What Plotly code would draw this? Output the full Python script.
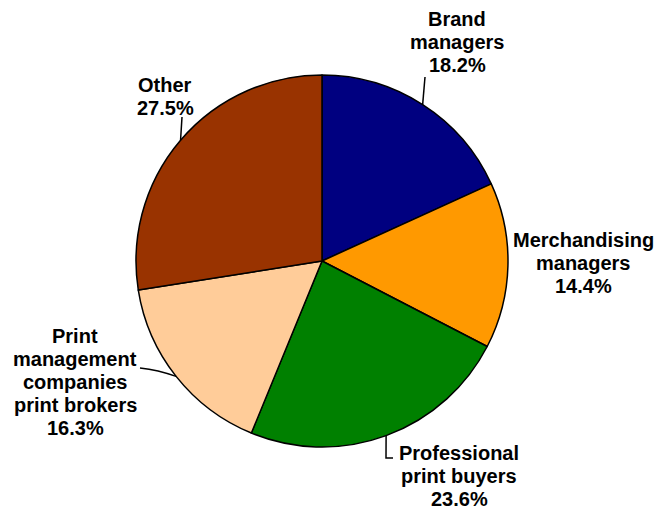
import math
import plotly.graph_objects as go

# Share of respondents by job role (clockwise from 12 o'clock)
categories = [
    "Brand<br>managers",
    "Merchandising<br>managers",
    "Professional<br>print buyers",
    "Print<br>management<br>companies<br>print brokers",
    "Other",
]
shares = [18.2, 14.4, 23.6, 16.3, 27.5]
slice_colors = ["#000080", "#FF9900", "#008000", "#FFCC99", "#993300"]

W, H = 657, 512
CX, CY, R = 322, 261, 186  # pie centre and radius in pixels


def px(x):
    return x / W


def py(y):
    return 1 - y / H


# label block placement: centre x, first baseline y (pixels)
label_pos = [(457, 26), (583, 247), (459, 460), (75, 343), (165, 92)]
LINE_PITCH = 23
FONT_SIZE = 20

# leader line end points near each label (None = no leader)
leader_end = [
    ("line", (425, 77)),
    None,
    ("elbow", (386, 458), (393, 458)),
    ("curve", (140, 368)),
    ("line", (182, 117)),
]

fig = go.Figure(
    go.Pie(
        labels=[c.replace("<br>", " ") for c in categories],
        values=shares,
        sort=False,
        direction="clockwise",
        rotation=0,
        marker=dict(colors=slice_colors, line=dict(color="black", width=1.5)),
        textinfo="none",
        hoverinfo="label+percent",
        showlegend=False,
        domain=dict(
            x=[px(CX - R), px(CX + R)],
            y=[py(CY + R), py(CY - R)],
        ),
    )
)

annotations = []
shapes = []
total = sum(shares)
cum = 0.0
for cat, val, (lx, ly), lead in zip(categories, shares, label_pos, leader_end):
    lines = cat.split("<br>") + [f"{val:.1f}%"]
    for i, t in enumerate(lines):
        base = ly + i * LINE_PITCH
        annotations.append(dict(
            x=px(lx), y=py(base - 0.35 * FONT_SIZE),
            xref="paper", yref="paper",
            xanchor="center", yanchor="middle",
            text=f"<b>{t}</b>", showarrow=False,
            font=dict(family="Liberation Sans, Arial, sans-serif",
                      size=FONT_SIZE, color="black"),
        ))
    # point on the rim at the middle of the slice
    mid = (cum + val / 2) / total * 2 * math.pi
    ex = CX + R * math.sin(mid)
    ey = CY - R * math.cos(mid)
    cum += val
    if lead is None:
        continue
    kind = lead[0]
    if kind == "line":
        tx, ty = lead[1]
        path = f"M {px(ex)} {py(ey)} L {px(tx)} {py(ty)}"
    elif kind == "elbow":
        (bx, by), (tx, ty) = lead[1], lead[2]
        path = (f"M {px(ex)} {py(ey)} L {px(bx)} {py(by)} "
                f"L {px(tx)} {py(ty)}")
    else:
        tx, ty = lead[1]
        qx, qy = (ex + tx) / 2, ty + 2
        path = (f"M {px(ex)} {py(ey)} Q {px(qx)} {py(qy)} "
                f"{px(tx)} {py(ty)}")
    shapes.append(dict(type="path", path=path, xref="paper", yref="paper",
                       line=dict(color="black", width=1.5)))

fig.update_layout(
    width=W, height=H,
    margin=dict(l=0, r=0, t=0, b=0),
    paper_bgcolor="white",
    plot_bgcolor="white",
    annotations=annotations,
    shapes=shapes,
)

fig.write_html("out.html")
